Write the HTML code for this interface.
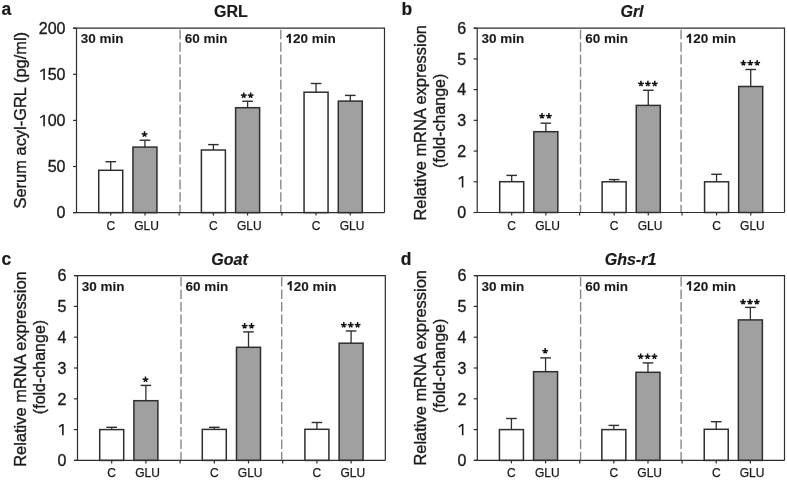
<!DOCTYPE html>
<html><head><meta charset="utf-8"><style>html,body{margin:0;padding:0;background:#fff;width:787px;height:480px;overflow:hidden;position:relative}</style></head>
<body>
<svg width="787" height="480" viewBox="0 0 787 480" style="position:absolute;left:0;top:0;font-family:'Liberation Sans', sans-serif;will-change:transform">
<rect width="787" height="480" fill="#fff"/>
<text x="1.5" y="14.8" font-size="17.5" font-weight="bold" fill="#1a1a1a" stroke="#1a1a1a" stroke-width="0.2">a</text>
<text x="231" y="17" text-anchor="middle" font-size="16" font-weight="bold" fill="#1a1a1a" stroke="#1a1a1a" stroke-width="0.2">GRL</text>
<text transform="translate(25.5,120.2) rotate(-90)" text-anchor="middle" font-size="16.45" fill="#1a1a1a" stroke="#1a1a1a" stroke-width="0.35">Serum acyl-GRL (pg/ml)</text>
<line x1="73.0" y1="212.60" x2="76.5" y2="212.60" stroke="#2e2e2e" stroke-width="1.2"/>
<text x="65.5" y="218.35" text-anchor="end" font-size="16" fill="#1a1a1a" stroke="#1a1a1a" stroke-width="0.35">0</text>
<line x1="73.0" y1="166.50" x2="76.5" y2="166.50" stroke="#2e2e2e" stroke-width="1.2"/>
<text x="65.5" y="172.25" text-anchor="end" font-size="16" fill="#1a1a1a" stroke="#1a1a1a" stroke-width="0.35">50</text>
<line x1="73.0" y1="120.40" x2="76.5" y2="120.40" stroke="#2e2e2e" stroke-width="1.2"/>
<text x="65.5" y="126.15" text-anchor="end" font-size="16" fill="#1a1a1a" stroke="#1a1a1a" stroke-width="0.35"><tspan fill="transparent" stroke="none">1</tspan>00</text>
<line x1="73.0" y1="74.30" x2="76.5" y2="74.30" stroke="#2e2e2e" stroke-width="1.2"/>
<text x="65.5" y="80.05" text-anchor="end" font-size="16" fill="#1a1a1a" stroke="#1a1a1a" stroke-width="0.35"><tspan fill="transparent" stroke="none">1</tspan>50</text>
<line x1="73.0" y1="28.20" x2="76.5" y2="28.20" stroke="#2e2e2e" stroke-width="1.2"/>
<text x="65.5" y="33.95" text-anchor="end" font-size="16" fill="#1a1a1a" stroke="#1a1a1a" stroke-width="0.35">200</text>
<line x1="180.07" y1="29.7" x2="180.07" y2="212.6" stroke="#888" stroke-width="1.4" stroke-dasharray="9.5 3"/>
<line x1="179.17" y1="212.6" x2="179.17" y2="215.6" stroke="#2e2e2e" stroke-width="1.2"/>
<line x1="280.83" y1="29.7" x2="280.83" y2="212.6" stroke="#888" stroke-width="1.4" stroke-dasharray="9.5 3"/>
<line x1="281.83" y1="212.6" x2="281.83" y2="215.6" stroke="#2e2e2e" stroke-width="1.2"/>
<text x="80.80" y="43.40" font-size="13.5" font-weight="bold" fill="#1a1a1a" stroke="#1a1a1a" stroke-width="0.1">30 min</text>
<text x="184.67" y="43.40" font-size="13.5" font-weight="bold" fill="#1a1a1a" stroke="#1a1a1a" stroke-width="0.1">60 min</text>
<text x="285.43" y="43.40" font-size="13.5" font-weight="bold" fill="#1a1a1a" stroke="#1a1a1a" stroke-width="0.1"><tspan fill="transparent" stroke="none">1</tspan>20 min</text>
<line x1="110.72" y1="170.3" x2="110.72" y2="161.7" stroke="#2e2e2e" stroke-width="1.3"/>
<line x1="105.42" y1="161.7" x2="116.02" y2="161.7" stroke="#2e2e2e" stroke-width="1.4"/>
<rect x="98.72" y="170.3" width="24" height="42.30" fill="#fff" stroke="#2e2e2e" stroke-width="1.5"/>
<line x1="110.72" y1="212.6" x2="110.72" y2="215.6" stroke="#2e2e2e" stroke-width="1.2"/>
<text x="110.72" y="229.6" text-anchor="middle" font-size="12" fill="#1a1a1a" stroke="#1a1a1a" stroke-width="0.25">C</text>
<line x1="144.94" y1="147.1" x2="144.94" y2="140.2" stroke="#2e2e2e" stroke-width="1.3"/>
<line x1="139.64" y1="140.2" x2="150.24" y2="140.2" stroke="#2e2e2e" stroke-width="1.4"/>
<rect x="132.94" y="147.1" width="24" height="65.50" fill="#a0a0a0" stroke="#2e2e2e" stroke-width="1.5"/>
<line x1="144.94" y1="212.6" x2="144.94" y2="215.6" stroke="#2e2e2e" stroke-width="1.2"/>
<text x="146.64" y="229.6" text-anchor="middle" font-size="12" fill="#1a1a1a" stroke="#1a1a1a" stroke-width="0.25">GLU</text>
<line x1="213.39" y1="150" x2="213.39" y2="144.6" stroke="#2e2e2e" stroke-width="1.3"/>
<line x1="208.09" y1="144.6" x2="218.69" y2="144.6" stroke="#2e2e2e" stroke-width="1.4"/>
<rect x="201.39" y="150" width="24" height="62.60" fill="#fff" stroke="#2e2e2e" stroke-width="1.5"/>
<line x1="213.39" y1="212.6" x2="213.39" y2="215.6" stroke="#2e2e2e" stroke-width="1.2"/>
<text x="213.39" y="229.6" text-anchor="middle" font-size="12" fill="#1a1a1a" stroke="#1a1a1a" stroke-width="0.25">C</text>
<line x1="247.61" y1="107.7" x2="247.61" y2="101.25" stroke="#2e2e2e" stroke-width="1.3"/>
<line x1="242.31" y1="101.25" x2="252.91" y2="101.25" stroke="#2e2e2e" stroke-width="1.4"/>
<rect x="235.61" y="107.7" width="24" height="104.90" fill="#a0a0a0" stroke="#2e2e2e" stroke-width="1.5"/>
<line x1="247.61" y1="212.6" x2="247.61" y2="215.6" stroke="#2e2e2e" stroke-width="1.2"/>
<text x="249.31" y="229.6" text-anchor="middle" font-size="12" fill="#1a1a1a" stroke="#1a1a1a" stroke-width="0.25">GLU</text>
<line x1="316.06" y1="92.2" x2="316.06" y2="83.5" stroke="#2e2e2e" stroke-width="1.3"/>
<line x1="310.76" y1="83.5" x2="321.36" y2="83.5" stroke="#2e2e2e" stroke-width="1.4"/>
<rect x="304.06" y="92.2" width="24" height="120.40" fill="#fff" stroke="#2e2e2e" stroke-width="1.5"/>
<line x1="316.06" y1="212.6" x2="316.06" y2="215.6" stroke="#2e2e2e" stroke-width="1.2"/>
<text x="316.06" y="229.6" text-anchor="middle" font-size="12" fill="#1a1a1a" stroke="#1a1a1a" stroke-width="0.25">C</text>
<line x1="350.28" y1="101.1" x2="350.28" y2="95.4" stroke="#2e2e2e" stroke-width="1.3"/>
<line x1="344.98" y1="95.4" x2="355.58" y2="95.4" stroke="#2e2e2e" stroke-width="1.4"/>
<rect x="338.28" y="101.1" width="24" height="111.50" fill="#a0a0a0" stroke="#2e2e2e" stroke-width="1.5"/>
<line x1="350.28" y1="212.6" x2="350.28" y2="215.6" stroke="#2e2e2e" stroke-width="1.2"/>
<text x="351.98" y="229.6" text-anchor="middle" font-size="12" fill="#1a1a1a" stroke="#1a1a1a" stroke-width="0.25">GLU</text>
<path d="M73.0,28.2 H384.5 V212.6 M76.5,28.2 V212.6 M73.0,212.6 H384.5" fill="none" stroke="#2e2e2e" stroke-width="1.2"/>
<text x="401.5" y="14.6" font-size="17.5" font-weight="bold" fill="#1a1a1a" stroke="#1a1a1a" stroke-width="0.2">b</text>
<text x="632" y="17" text-anchor="middle" font-size="16" font-weight="bold" font-style="italic" fill="#1a1a1a" stroke="#1a1a1a" stroke-width="0.2">Grl</text>
<text transform="translate(426,122.8) rotate(-90)" text-anchor="middle" font-size="16.45" fill="#1a1a1a" stroke="#1a1a1a" stroke-width="0.35">Relative mRNA expression</text>
<text transform="translate(444.5,120.8) rotate(-90)" text-anchor="middle" font-size="16" fill="#1a1a1a" stroke="#1a1a1a" stroke-width="0.35">(fold-change)</text>
<line x1="473.7" y1="212.50" x2="477.2" y2="212.50" stroke="#2e2e2e" stroke-width="1.2"/>
<text x="466.2" y="218.25" text-anchor="end" font-size="16" fill="#1a1a1a" stroke="#1a1a1a" stroke-width="0.35">0</text>
<line x1="473.7" y1="181.78" x2="477.2" y2="181.78" stroke="#2e2e2e" stroke-width="1.2"/>
<text x="466.2" y="187.53" text-anchor="end" font-size="16" fill="#1a1a1a" stroke="#1a1a1a" stroke-width="0.35"><tspan fill="transparent" stroke="none">1</tspan></text>
<line x1="473.7" y1="151.07" x2="477.2" y2="151.07" stroke="#2e2e2e" stroke-width="1.2"/>
<text x="466.2" y="156.82" text-anchor="end" font-size="16" fill="#1a1a1a" stroke="#1a1a1a" stroke-width="0.35">2</text>
<line x1="473.7" y1="120.35" x2="477.2" y2="120.35" stroke="#2e2e2e" stroke-width="1.2"/>
<text x="466.2" y="126.10" text-anchor="end" font-size="16" fill="#1a1a1a" stroke="#1a1a1a" stroke-width="0.35">3</text>
<line x1="473.7" y1="89.63" x2="477.2" y2="89.63" stroke="#2e2e2e" stroke-width="1.2"/>
<text x="466.2" y="95.38" text-anchor="end" font-size="16" fill="#1a1a1a" stroke="#1a1a1a" stroke-width="0.35">4</text>
<line x1="473.7" y1="58.92" x2="477.2" y2="58.92" stroke="#2e2e2e" stroke-width="1.2"/>
<text x="466.2" y="64.67" text-anchor="end" font-size="16" fill="#1a1a1a" stroke="#1a1a1a" stroke-width="0.35">5</text>
<line x1="473.7" y1="28.20" x2="477.2" y2="28.20" stroke="#2e2e2e" stroke-width="1.2"/>
<text x="466.2" y="33.95" text-anchor="end" font-size="16" fill="#1a1a1a" stroke="#1a1a1a" stroke-width="0.35">6</text>
<line x1="580.53" y1="29.7" x2="580.53" y2="212.5" stroke="#888" stroke-width="1.4" stroke-dasharray="9.5 3"/>
<line x1="579.63" y1="212.5" x2="579.63" y2="215.5" stroke="#2e2e2e" stroke-width="1.2"/>
<line x1="681.07" y1="29.7" x2="681.07" y2="212.5" stroke="#888" stroke-width="1.4" stroke-dasharray="9.5 3"/>
<line x1="682.07" y1="212.5" x2="682.07" y2="215.5" stroke="#2e2e2e" stroke-width="1.2"/>
<text x="481.50" y="43.40" font-size="13.5" font-weight="bold" fill="#1a1a1a" stroke="#1a1a1a" stroke-width="0.1">30 min</text>
<text x="585.13" y="43.40" font-size="13.5" font-weight="bold" fill="#1a1a1a" stroke="#1a1a1a" stroke-width="0.1">60 min</text>
<text x="685.67" y="43.40" font-size="13.5" font-weight="bold" fill="#1a1a1a" stroke="#1a1a1a" stroke-width="0.1"><tspan fill="transparent" stroke="none">1</tspan>20 min</text>
<line x1="511.69" y1="181.7" x2="511.69" y2="175.4" stroke="#2e2e2e" stroke-width="1.3"/>
<line x1="506.39" y1="175.4" x2="516.99" y2="175.4" stroke="#2e2e2e" stroke-width="1.4"/>
<rect x="499.69" y="181.7" width="24" height="30.80" fill="#fff" stroke="#2e2e2e" stroke-width="1.5"/>
<line x1="511.69" y1="212.5" x2="511.69" y2="215.5" stroke="#2e2e2e" stroke-width="1.2"/>
<text x="511.69" y="229.5" text-anchor="middle" font-size="12" fill="#1a1a1a" stroke="#1a1a1a" stroke-width="0.25">C</text>
<line x1="545.84" y1="131.7" x2="545.84" y2="123.2" stroke="#2e2e2e" stroke-width="1.3"/>
<line x1="540.54" y1="123.2" x2="551.14" y2="123.2" stroke="#2e2e2e" stroke-width="1.4"/>
<rect x="533.84" y="131.7" width="24" height="80.80" fill="#a0a0a0" stroke="#2e2e2e" stroke-width="1.5"/>
<line x1="545.84" y1="212.5" x2="545.84" y2="215.5" stroke="#2e2e2e" stroke-width="1.2"/>
<text x="547.54" y="229.5" text-anchor="middle" font-size="12" fill="#1a1a1a" stroke="#1a1a1a" stroke-width="0.25">GLU</text>
<line x1="614.13" y1="181.8" x2="614.13" y2="179.6" stroke="#2e2e2e" stroke-width="1.3"/>
<line x1="608.83" y1="179.6" x2="619.43" y2="179.6" stroke="#2e2e2e" stroke-width="1.4"/>
<rect x="602.13" y="181.8" width="24" height="30.70" fill="#fff" stroke="#2e2e2e" stroke-width="1.5"/>
<line x1="614.13" y1="212.5" x2="614.13" y2="215.5" stroke="#2e2e2e" stroke-width="1.2"/>
<text x="614.13" y="229.5" text-anchor="middle" font-size="12" fill="#1a1a1a" stroke="#1a1a1a" stroke-width="0.25">C</text>
<line x1="648.27" y1="105.4" x2="648.27" y2="90.25" stroke="#2e2e2e" stroke-width="1.3"/>
<line x1="642.97" y1="90.25" x2="653.57" y2="90.25" stroke="#2e2e2e" stroke-width="1.4"/>
<rect x="636.27" y="105.4" width="24" height="107.10" fill="#a0a0a0" stroke="#2e2e2e" stroke-width="1.5"/>
<line x1="648.27" y1="212.5" x2="648.27" y2="215.5" stroke="#2e2e2e" stroke-width="1.2"/>
<text x="649.97" y="229.5" text-anchor="middle" font-size="12" fill="#1a1a1a" stroke="#1a1a1a" stroke-width="0.25">GLU</text>
<line x1="716.56" y1="181.8" x2="716.56" y2="174.3" stroke="#2e2e2e" stroke-width="1.3"/>
<line x1="711.26" y1="174.3" x2="721.86" y2="174.3" stroke="#2e2e2e" stroke-width="1.4"/>
<rect x="704.56" y="181.8" width="24" height="30.70" fill="#fff" stroke="#2e2e2e" stroke-width="1.5"/>
<line x1="716.56" y1="212.5" x2="716.56" y2="215.5" stroke="#2e2e2e" stroke-width="1.2"/>
<text x="716.56" y="229.5" text-anchor="middle" font-size="12" fill="#1a1a1a" stroke="#1a1a1a" stroke-width="0.25">C</text>
<line x1="750.71" y1="86.5" x2="750.71" y2="69.5" stroke="#2e2e2e" stroke-width="1.3"/>
<line x1="745.41" y1="69.5" x2="756.01" y2="69.5" stroke="#2e2e2e" stroke-width="1.4"/>
<rect x="738.71" y="86.5" width="24" height="126.00" fill="#a0a0a0" stroke="#2e2e2e" stroke-width="1.5"/>
<line x1="750.71" y1="212.5" x2="750.71" y2="215.5" stroke="#2e2e2e" stroke-width="1.2"/>
<text x="752.41" y="229.5" text-anchor="middle" font-size="12" fill="#1a1a1a" stroke="#1a1a1a" stroke-width="0.25">GLU</text>
<path d="M473.7,28.2 H784.5 V212.5 M477.2,28.2 V212.5 M473.7,212.5 H784.5" fill="none" stroke="#2e2e2e" stroke-width="1.2"/>
<text x="1.5" y="264.5" font-size="17.5" font-weight="bold" fill="#1a1a1a" stroke="#1a1a1a" stroke-width="0.2">c</text>
<text x="229.5" y="265" text-anchor="middle" font-size="16" font-weight="bold" font-style="italic" fill="#1a1a1a" stroke="#1a1a1a" stroke-width="0.2">Goat</text>
<text transform="translate(26,369) rotate(-90)" text-anchor="middle" font-size="16.45" fill="#1a1a1a" stroke="#1a1a1a" stroke-width="0.35">Relative mRNA expression</text>
<text transform="translate(44.5,367) rotate(-90)" text-anchor="middle" font-size="16" fill="#1a1a1a" stroke="#1a1a1a" stroke-width="0.35">(fold-change)</text>
<line x1="74.0" y1="460.40" x2="77.5" y2="460.40" stroke="#2e2e2e" stroke-width="1.2"/>
<text x="66.5" y="466.15" text-anchor="end" font-size="16" fill="#1a1a1a" stroke="#1a1a1a" stroke-width="0.35">0</text>
<line x1="74.0" y1="429.60" x2="77.5" y2="429.60" stroke="#2e2e2e" stroke-width="1.2"/>
<text x="66.5" y="435.35" text-anchor="end" font-size="16" fill="#1a1a1a" stroke="#1a1a1a" stroke-width="0.35"><tspan fill="transparent" stroke="none">1</tspan></text>
<line x1="74.0" y1="398.80" x2="77.5" y2="398.80" stroke="#2e2e2e" stroke-width="1.2"/>
<text x="66.5" y="404.55" text-anchor="end" font-size="16" fill="#1a1a1a" stroke="#1a1a1a" stroke-width="0.35">2</text>
<line x1="74.0" y1="368.00" x2="77.5" y2="368.00" stroke="#2e2e2e" stroke-width="1.2"/>
<text x="66.5" y="373.75" text-anchor="end" font-size="16" fill="#1a1a1a" stroke="#1a1a1a" stroke-width="0.35">3</text>
<line x1="74.0" y1="337.20" x2="77.5" y2="337.20" stroke="#2e2e2e" stroke-width="1.2"/>
<text x="66.5" y="342.95" text-anchor="end" font-size="16" fill="#1a1a1a" stroke="#1a1a1a" stroke-width="0.35">4</text>
<line x1="74.0" y1="306.40" x2="77.5" y2="306.40" stroke="#2e2e2e" stroke-width="1.2"/>
<text x="66.5" y="312.15" text-anchor="end" font-size="16" fill="#1a1a1a" stroke="#1a1a1a" stroke-width="0.35">5</text>
<line x1="74.0" y1="275.60" x2="77.5" y2="275.60" stroke="#2e2e2e" stroke-width="1.2"/>
<text x="66.5" y="281.35" text-anchor="end" font-size="16" fill="#1a1a1a" stroke="#1a1a1a" stroke-width="0.35">6</text>
<line x1="181.00" y1="277.1" x2="181.00" y2="460.4" stroke="#888" stroke-width="1.4" stroke-dasharray="9.5 3"/>
<line x1="180.10" y1="460.4" x2="180.10" y2="463.4" stroke="#2e2e2e" stroke-width="1.2"/>
<line x1="281.70" y1="277.1" x2="281.70" y2="460.4" stroke="#888" stroke-width="1.4" stroke-dasharray="9.5 3"/>
<line x1="282.70" y1="460.4" x2="282.70" y2="463.4" stroke="#2e2e2e" stroke-width="1.2"/>
<text x="81.80" y="290.80" font-size="13.5" font-weight="bold" fill="#1a1a1a" stroke="#1a1a1a" stroke-width="0.1">30 min</text>
<text x="185.60" y="290.80" font-size="13.5" font-weight="bold" fill="#1a1a1a" stroke="#1a1a1a" stroke-width="0.1">60 min</text>
<text x="286.30" y="290.80" font-size="13.5" font-weight="bold" fill="#1a1a1a" stroke="#1a1a1a" stroke-width="0.1"><tspan fill="transparent" stroke="none">1</tspan>20 min</text>
<line x1="111.70" y1="429.6" x2="111.70" y2="427.3" stroke="#2e2e2e" stroke-width="1.3"/>
<line x1="106.40" y1="427.3" x2="117.00" y2="427.3" stroke="#2e2e2e" stroke-width="1.4"/>
<rect x="99.70" y="429.6" width="24" height="30.80" fill="#fff" stroke="#2e2e2e" stroke-width="1.5"/>
<line x1="111.70" y1="460.4" x2="111.70" y2="463.4" stroke="#2e2e2e" stroke-width="1.2"/>
<text x="111.70" y="477.4" text-anchor="middle" font-size="12" fill="#1a1a1a" stroke="#1a1a1a" stroke-width="0.25">C</text>
<line x1="145.90" y1="400.7" x2="145.90" y2="385.4" stroke="#2e2e2e" stroke-width="1.3"/>
<line x1="140.60" y1="385.4" x2="151.20" y2="385.4" stroke="#2e2e2e" stroke-width="1.4"/>
<rect x="133.90" y="400.7" width="24" height="59.70" fill="#a0a0a0" stroke="#2e2e2e" stroke-width="1.5"/>
<line x1="145.90" y1="460.4" x2="145.90" y2="463.4" stroke="#2e2e2e" stroke-width="1.2"/>
<text x="147.60" y="477.4" text-anchor="middle" font-size="12" fill="#1a1a1a" stroke="#1a1a1a" stroke-width="0.25">GLU</text>
<line x1="214.30" y1="429.4" x2="214.30" y2="427.3" stroke="#2e2e2e" stroke-width="1.3"/>
<line x1="209.00" y1="427.3" x2="219.60" y2="427.3" stroke="#2e2e2e" stroke-width="1.4"/>
<rect x="202.30" y="429.4" width="24" height="31.00" fill="#fff" stroke="#2e2e2e" stroke-width="1.5"/>
<line x1="214.30" y1="460.4" x2="214.30" y2="463.4" stroke="#2e2e2e" stroke-width="1.2"/>
<text x="214.30" y="477.4" text-anchor="middle" font-size="12" fill="#1a1a1a" stroke="#1a1a1a" stroke-width="0.25">C</text>
<line x1="248.50" y1="347.3" x2="248.50" y2="331.9" stroke="#2e2e2e" stroke-width="1.3"/>
<line x1="243.20" y1="331.9" x2="253.80" y2="331.9" stroke="#2e2e2e" stroke-width="1.4"/>
<rect x="236.50" y="347.3" width="24" height="113.10" fill="#a0a0a0" stroke="#2e2e2e" stroke-width="1.5"/>
<line x1="248.50" y1="460.4" x2="248.50" y2="463.4" stroke="#2e2e2e" stroke-width="1.2"/>
<text x="250.20" y="477.4" text-anchor="middle" font-size="12" fill="#1a1a1a" stroke="#1a1a1a" stroke-width="0.25">GLU</text>
<line x1="316.90" y1="429.3" x2="316.90" y2="422.5" stroke="#2e2e2e" stroke-width="1.3"/>
<line x1="311.60" y1="422.5" x2="322.20" y2="422.5" stroke="#2e2e2e" stroke-width="1.4"/>
<rect x="304.90" y="429.3" width="24" height="31.10" fill="#fff" stroke="#2e2e2e" stroke-width="1.5"/>
<line x1="316.90" y1="460.4" x2="316.90" y2="463.4" stroke="#2e2e2e" stroke-width="1.2"/>
<text x="316.90" y="477.4" text-anchor="middle" font-size="12" fill="#1a1a1a" stroke="#1a1a1a" stroke-width="0.25">C</text>
<line x1="351.10" y1="343.2" x2="351.10" y2="331" stroke="#2e2e2e" stroke-width="1.3"/>
<line x1="345.80" y1="331" x2="356.40" y2="331" stroke="#2e2e2e" stroke-width="1.4"/>
<rect x="339.10" y="343.2" width="24" height="117.20" fill="#a0a0a0" stroke="#2e2e2e" stroke-width="1.5"/>
<line x1="351.10" y1="460.4" x2="351.10" y2="463.4" stroke="#2e2e2e" stroke-width="1.2"/>
<text x="352.80" y="477.4" text-anchor="middle" font-size="12" fill="#1a1a1a" stroke="#1a1a1a" stroke-width="0.25">GLU</text>
<path d="M74.0,275.6 H385.3 V460.4 M77.5,275.6 V460.4 M74.0,460.4 H385.3" fill="none" stroke="#2e2e2e" stroke-width="1.2"/>
<text x="400.8" y="264.5" font-size="17.5" font-weight="bold" fill="#1a1a1a" stroke="#1a1a1a" stroke-width="0.2">d</text>
<text x="630.5" y="265" text-anchor="middle" font-size="16" font-weight="bold" font-style="italic" fill="#1a1a1a" stroke="#1a1a1a" stroke-width="0.2">Ghs-r1</text>
<text transform="translate(426,367.8) rotate(-90)" text-anchor="middle" font-size="16.45" fill="#1a1a1a" stroke="#1a1a1a" stroke-width="0.35">Relative mRNA expression</text>
<text transform="translate(444.5,365.8) rotate(-90)" text-anchor="middle" font-size="16" fill="#1a1a1a" stroke="#1a1a1a" stroke-width="0.35">(fold-change)</text>
<line x1="473.8" y1="460.40" x2="477.3" y2="460.40" stroke="#2e2e2e" stroke-width="1.2"/>
<text x="466.3" y="466.15" text-anchor="end" font-size="16" fill="#1a1a1a" stroke="#1a1a1a" stroke-width="0.35">0</text>
<line x1="473.8" y1="429.60" x2="477.3" y2="429.60" stroke="#2e2e2e" stroke-width="1.2"/>
<text x="466.3" y="435.35" text-anchor="end" font-size="16" fill="#1a1a1a" stroke="#1a1a1a" stroke-width="0.35"><tspan fill="transparent" stroke="none">1</tspan></text>
<line x1="473.8" y1="398.80" x2="477.3" y2="398.80" stroke="#2e2e2e" stroke-width="1.2"/>
<text x="466.3" y="404.55" text-anchor="end" font-size="16" fill="#1a1a1a" stroke="#1a1a1a" stroke-width="0.35">2</text>
<line x1="473.8" y1="368.00" x2="477.3" y2="368.00" stroke="#2e2e2e" stroke-width="1.2"/>
<text x="466.3" y="373.75" text-anchor="end" font-size="16" fill="#1a1a1a" stroke="#1a1a1a" stroke-width="0.35">3</text>
<line x1="473.8" y1="337.20" x2="477.3" y2="337.20" stroke="#2e2e2e" stroke-width="1.2"/>
<text x="466.3" y="342.95" text-anchor="end" font-size="16" fill="#1a1a1a" stroke="#1a1a1a" stroke-width="0.35">4</text>
<line x1="473.8" y1="306.40" x2="477.3" y2="306.40" stroke="#2e2e2e" stroke-width="1.2"/>
<text x="466.3" y="312.15" text-anchor="end" font-size="16" fill="#1a1a1a" stroke="#1a1a1a" stroke-width="0.35">5</text>
<line x1="473.8" y1="275.60" x2="477.3" y2="275.60" stroke="#2e2e2e" stroke-width="1.2"/>
<text x="466.3" y="281.35" text-anchor="end" font-size="16" fill="#1a1a1a" stroke="#1a1a1a" stroke-width="0.35">6</text>
<line x1="580.60" y1="277.1" x2="580.60" y2="460.4" stroke="#888" stroke-width="1.4" stroke-dasharray="9.5 3"/>
<line x1="579.70" y1="460.4" x2="579.70" y2="463.4" stroke="#2e2e2e" stroke-width="1.2"/>
<line x1="681.10" y1="277.1" x2="681.10" y2="460.4" stroke="#888" stroke-width="1.4" stroke-dasharray="9.5 3"/>
<line x1="682.10" y1="460.4" x2="682.10" y2="463.4" stroke="#2e2e2e" stroke-width="1.2"/>
<text x="481.60" y="290.80" font-size="13.5" font-weight="bold" fill="#1a1a1a" stroke="#1a1a1a" stroke-width="0.1">30 min</text>
<text x="585.20" y="290.80" font-size="13.5" font-weight="bold" fill="#1a1a1a" stroke="#1a1a1a" stroke-width="0.1">60 min</text>
<text x="685.70" y="290.80" font-size="13.5" font-weight="bold" fill="#1a1a1a" stroke="#1a1a1a" stroke-width="0.1"><tspan fill="transparent" stroke="none">1</tspan>20 min</text>
<line x1="511.43" y1="429.6" x2="511.43" y2="418.5" stroke="#2e2e2e" stroke-width="1.3"/>
<line x1="506.13" y1="418.5" x2="516.73" y2="418.5" stroke="#2e2e2e" stroke-width="1.4"/>
<rect x="499.43" y="429.6" width="24" height="30.80" fill="#fff" stroke="#2e2e2e" stroke-width="1.5"/>
<line x1="511.43" y1="460.4" x2="511.43" y2="463.4" stroke="#2e2e2e" stroke-width="1.2"/>
<text x="511.43" y="477.4" text-anchor="middle" font-size="12" fill="#1a1a1a" stroke="#1a1a1a" stroke-width="0.25">C</text>
<line x1="545.57" y1="371.7" x2="545.57" y2="357.9" stroke="#2e2e2e" stroke-width="1.3"/>
<line x1="540.27" y1="357.9" x2="550.87" y2="357.9" stroke="#2e2e2e" stroke-width="1.4"/>
<rect x="533.57" y="371.7" width="24" height="88.70" fill="#a0a0a0" stroke="#2e2e2e" stroke-width="1.5"/>
<line x1="545.57" y1="460.4" x2="545.57" y2="463.4" stroke="#2e2e2e" stroke-width="1.2"/>
<text x="547.27" y="477.4" text-anchor="middle" font-size="12" fill="#1a1a1a" stroke="#1a1a1a" stroke-width="0.25">GLU</text>
<line x1="613.83" y1="429.6" x2="613.83" y2="425.4" stroke="#2e2e2e" stroke-width="1.3"/>
<line x1="608.53" y1="425.4" x2="619.13" y2="425.4" stroke="#2e2e2e" stroke-width="1.4"/>
<rect x="601.83" y="429.6" width="24" height="30.80" fill="#fff" stroke="#2e2e2e" stroke-width="1.5"/>
<line x1="613.83" y1="460.4" x2="613.83" y2="463.4" stroke="#2e2e2e" stroke-width="1.2"/>
<text x="613.83" y="477.4" text-anchor="middle" font-size="12" fill="#1a1a1a" stroke="#1a1a1a" stroke-width="0.25">C</text>
<line x1="647.97" y1="372.3" x2="647.97" y2="362.9" stroke="#2e2e2e" stroke-width="1.3"/>
<line x1="642.67" y1="362.9" x2="653.27" y2="362.9" stroke="#2e2e2e" stroke-width="1.4"/>
<rect x="635.97" y="372.3" width="24" height="88.10" fill="#a0a0a0" stroke="#2e2e2e" stroke-width="1.5"/>
<line x1="647.97" y1="460.4" x2="647.97" y2="463.4" stroke="#2e2e2e" stroke-width="1.2"/>
<text x="649.67" y="477.4" text-anchor="middle" font-size="12" fill="#1a1a1a" stroke="#1a1a1a" stroke-width="0.25">GLU</text>
<line x1="716.23" y1="429.3" x2="716.23" y2="421.7" stroke="#2e2e2e" stroke-width="1.3"/>
<line x1="710.93" y1="421.7" x2="721.53" y2="421.7" stroke="#2e2e2e" stroke-width="1.4"/>
<rect x="704.23" y="429.3" width="24" height="31.10" fill="#fff" stroke="#2e2e2e" stroke-width="1.5"/>
<line x1="716.23" y1="460.4" x2="716.23" y2="463.4" stroke="#2e2e2e" stroke-width="1.2"/>
<text x="716.23" y="477.4" text-anchor="middle" font-size="12" fill="#1a1a1a" stroke="#1a1a1a" stroke-width="0.25">C</text>
<line x1="750.37" y1="319.9" x2="750.37" y2="307.4" stroke="#2e2e2e" stroke-width="1.3"/>
<line x1="745.07" y1="307.4" x2="755.67" y2="307.4" stroke="#2e2e2e" stroke-width="1.4"/>
<rect x="738.37" y="319.9" width="24" height="140.50" fill="#a0a0a0" stroke="#2e2e2e" stroke-width="1.5"/>
<line x1="750.37" y1="460.4" x2="750.37" y2="463.4" stroke="#2e2e2e" stroke-width="1.2"/>
<text x="752.07" y="477.4" text-anchor="middle" font-size="12" fill="#1a1a1a" stroke="#1a1a1a" stroke-width="0.25">GLU</text>
<path d="M473.8,275.6 H784.5 V460.4 M477.3,275.6 V460.4 M473.8,460.4 H784.5" fill="none" stroke="#2e2e2e" stroke-width="1.2"/>
<path d="M144.54,134.20L144.54,131.30M144.54,134.20L147.42,133.80M144.54,134.20L141.67,133.80M144.54,134.20L146.08,136.66M144.54,134.20L143.01,136.66M243.76,95.30L243.76,92.40M243.76,95.30L246.63,94.90M243.76,95.30L240.89,94.90M243.76,95.30L245.30,97.76M243.76,95.30L242.22,97.76M250.66,95.30L250.66,92.40M250.66,95.30L253.53,94.90M250.66,95.30L247.79,94.90M250.66,95.30L252.20,97.76M250.66,95.30L249.12,97.76M541.99,115.90L541.99,113.00M541.99,115.90L544.86,115.50M541.99,115.90L539.12,115.50M541.99,115.90L543.53,118.36M541.99,115.90L540.45,118.36M548.89,115.90L548.89,113.00M548.89,115.90L551.76,115.50M548.89,115.90L546.02,115.50M548.89,115.90L550.43,118.36M548.89,115.90L547.35,118.36M640.97,83.70L640.97,80.80M640.97,83.70L643.84,83.30M640.97,83.70L638.10,83.30M640.97,83.70L642.51,86.16M640.97,83.70L639.44,86.16M647.87,83.70L647.87,80.80M647.87,83.70L650.74,83.30M647.87,83.70L645.00,83.30M647.87,83.70L649.41,86.16M647.87,83.70L646.34,86.16M654.77,83.70L654.77,80.80M654.77,83.70L657.64,83.30M654.77,83.70L651.90,83.30M654.77,83.70L656.31,86.16M654.77,83.70L653.24,86.16M743.41,63.00L743.41,60.10M743.41,63.00L746.28,62.60M743.41,63.00L740.53,62.60M743.41,63.00L744.94,65.46M743.41,63.00L741.87,65.46M750.31,63.00L750.31,60.10M750.31,63.00L753.18,62.60M750.31,63.00L747.43,62.60M750.31,63.00L751.84,65.46M750.31,63.00L748.77,65.46M757.21,63.00L757.21,60.10M757.21,63.00L760.08,62.60M757.21,63.00L754.33,62.60M757.21,63.00L758.74,65.46M757.21,63.00L755.67,65.46M145.50,379.40L145.50,376.50M145.50,379.40L148.37,379.00M145.50,379.40L142.63,379.00M145.50,379.40L147.04,381.86M145.50,379.40L143.96,381.86M244.65,326.00L244.65,323.10M244.65,326.00L247.52,325.60M244.65,326.00L241.78,325.60M244.65,326.00L246.19,328.46M244.65,326.00L243.11,328.46M251.55,326.00L251.55,323.10M251.55,326.00L254.42,325.60M251.55,326.00L248.68,325.60M251.55,326.00L253.09,328.46M251.55,326.00L250.01,328.46M343.80,325.00L343.80,322.10M343.80,325.00L346.67,324.60M343.80,325.00L340.93,324.60M343.80,325.00L345.34,327.46M343.80,325.00L342.26,327.46M350.70,325.00L350.70,322.10M350.70,325.00L353.57,324.60M350.70,325.00L347.83,324.60M350.70,325.00L352.24,327.46M350.70,325.00L349.16,327.46M357.60,325.00L357.60,322.10M357.60,325.00L360.47,324.60M357.60,325.00L354.73,324.60M357.60,325.00L359.14,327.46M357.60,325.00L356.06,327.46M545.17,351.00L545.17,348.10M545.17,351.00L548.04,350.60M545.17,351.00L542.29,350.60M545.17,351.00L546.70,353.46M545.17,351.00L543.63,353.46M640.67,356.50L640.67,353.60M640.67,356.50L643.54,356.10M640.67,356.50L637.79,356.10M640.67,356.50L642.20,358.96M640.67,356.50L639.13,358.96M647.57,356.50L647.57,353.60M647.57,356.50L650.44,356.10M647.57,356.50L644.69,356.10M647.57,356.50L649.10,358.96M647.57,356.50L646.03,358.96M654.47,356.50L654.47,353.60M654.47,356.50L657.34,356.10M654.47,356.50L651.59,356.10M654.47,356.50L656.00,358.96M654.47,356.50L652.93,358.96M743.07,301.80L743.07,298.90M743.07,301.80L745.94,301.40M743.07,301.80L740.19,301.40M743.07,301.80L744.60,304.26M743.07,301.80L741.53,304.26M749.97,301.80L749.97,298.90M749.97,301.80L752.84,301.40M749.97,301.80L747.09,301.40M749.97,301.80L751.50,304.26M749.97,301.80L748.43,304.26M756.87,301.80L756.87,298.90M756.87,301.80L759.74,301.40M756.87,301.80L753.99,301.40M756.87,301.80L758.40,304.26M756.87,301.80L755.33,304.26" stroke="#111" stroke-width="1.5" fill="none"/>
<path d="M44.09,126.15V114.69" stroke="#1a1a1a" stroke-width="1.6" fill="none" stroke-linejoin="bevel"/>
<path d="M43.61,115.49L40.25,117.75" stroke="#1a1a1a" stroke-width="1.4400000000000002" fill="none" stroke-linejoin="bevel"/>
<path d="M44.09,80.05V68.59" stroke="#1a1a1a" stroke-width="1.6" fill="none" stroke-linejoin="bevel"/>
<path d="M43.61,69.39L40.25,71.65" stroke="#1a1a1a" stroke-width="1.4400000000000002" fill="none" stroke-linejoin="bevel"/>
<path d="M289.89,43.10V33.73" stroke="#1a1a1a" stroke-width="2.0" fill="none" stroke-linejoin="bevel"/>
<path d="M289.29,34.73L286.78,37.32" stroke="#1a1a1a" stroke-width="1.8" fill="none" stroke-linejoin="bevel"/>
<path d="M462.58,187.53V176.08" stroke="#1a1a1a" stroke-width="1.6" fill="none" stroke-linejoin="bevel"/>
<path d="M462.10,176.88L458.74,179.13" stroke="#1a1a1a" stroke-width="1.4400000000000002" fill="none" stroke-linejoin="bevel"/>
<path d="M690.12,43.10V33.73" stroke="#1a1a1a" stroke-width="2.0" fill="none" stroke-linejoin="bevel"/>
<path d="M689.52,34.73L687.02,37.32" stroke="#1a1a1a" stroke-width="1.8" fill="none" stroke-linejoin="bevel"/>
<path d="M62.88,435.35V423.89" stroke="#1a1a1a" stroke-width="1.6" fill="none" stroke-linejoin="bevel"/>
<path d="M62.40,424.69L59.04,426.95" stroke="#1a1a1a" stroke-width="1.4400000000000002" fill="none" stroke-linejoin="bevel"/>
<path d="M290.76,290.50V281.13" stroke="#1a1a1a" stroke-width="2.0" fill="none" stroke-linejoin="bevel"/>
<path d="M290.16,282.13L287.65,284.73" stroke="#1a1a1a" stroke-width="1.8" fill="none" stroke-linejoin="bevel"/>
<path d="M462.68,435.35V423.89" stroke="#1a1a1a" stroke-width="1.6" fill="none" stroke-linejoin="bevel"/>
<path d="M462.20,424.69L458.84,426.95" stroke="#1a1a1a" stroke-width="1.4400000000000002" fill="none" stroke-linejoin="bevel"/>
<path d="M690.16,290.50V281.13" stroke="#1a1a1a" stroke-width="2.0" fill="none" stroke-linejoin="bevel"/>
<path d="M689.56,282.13L687.05,284.73" stroke="#1a1a1a" stroke-width="1.8" fill="none" stroke-linejoin="bevel"/>
</svg>
</body></html>
